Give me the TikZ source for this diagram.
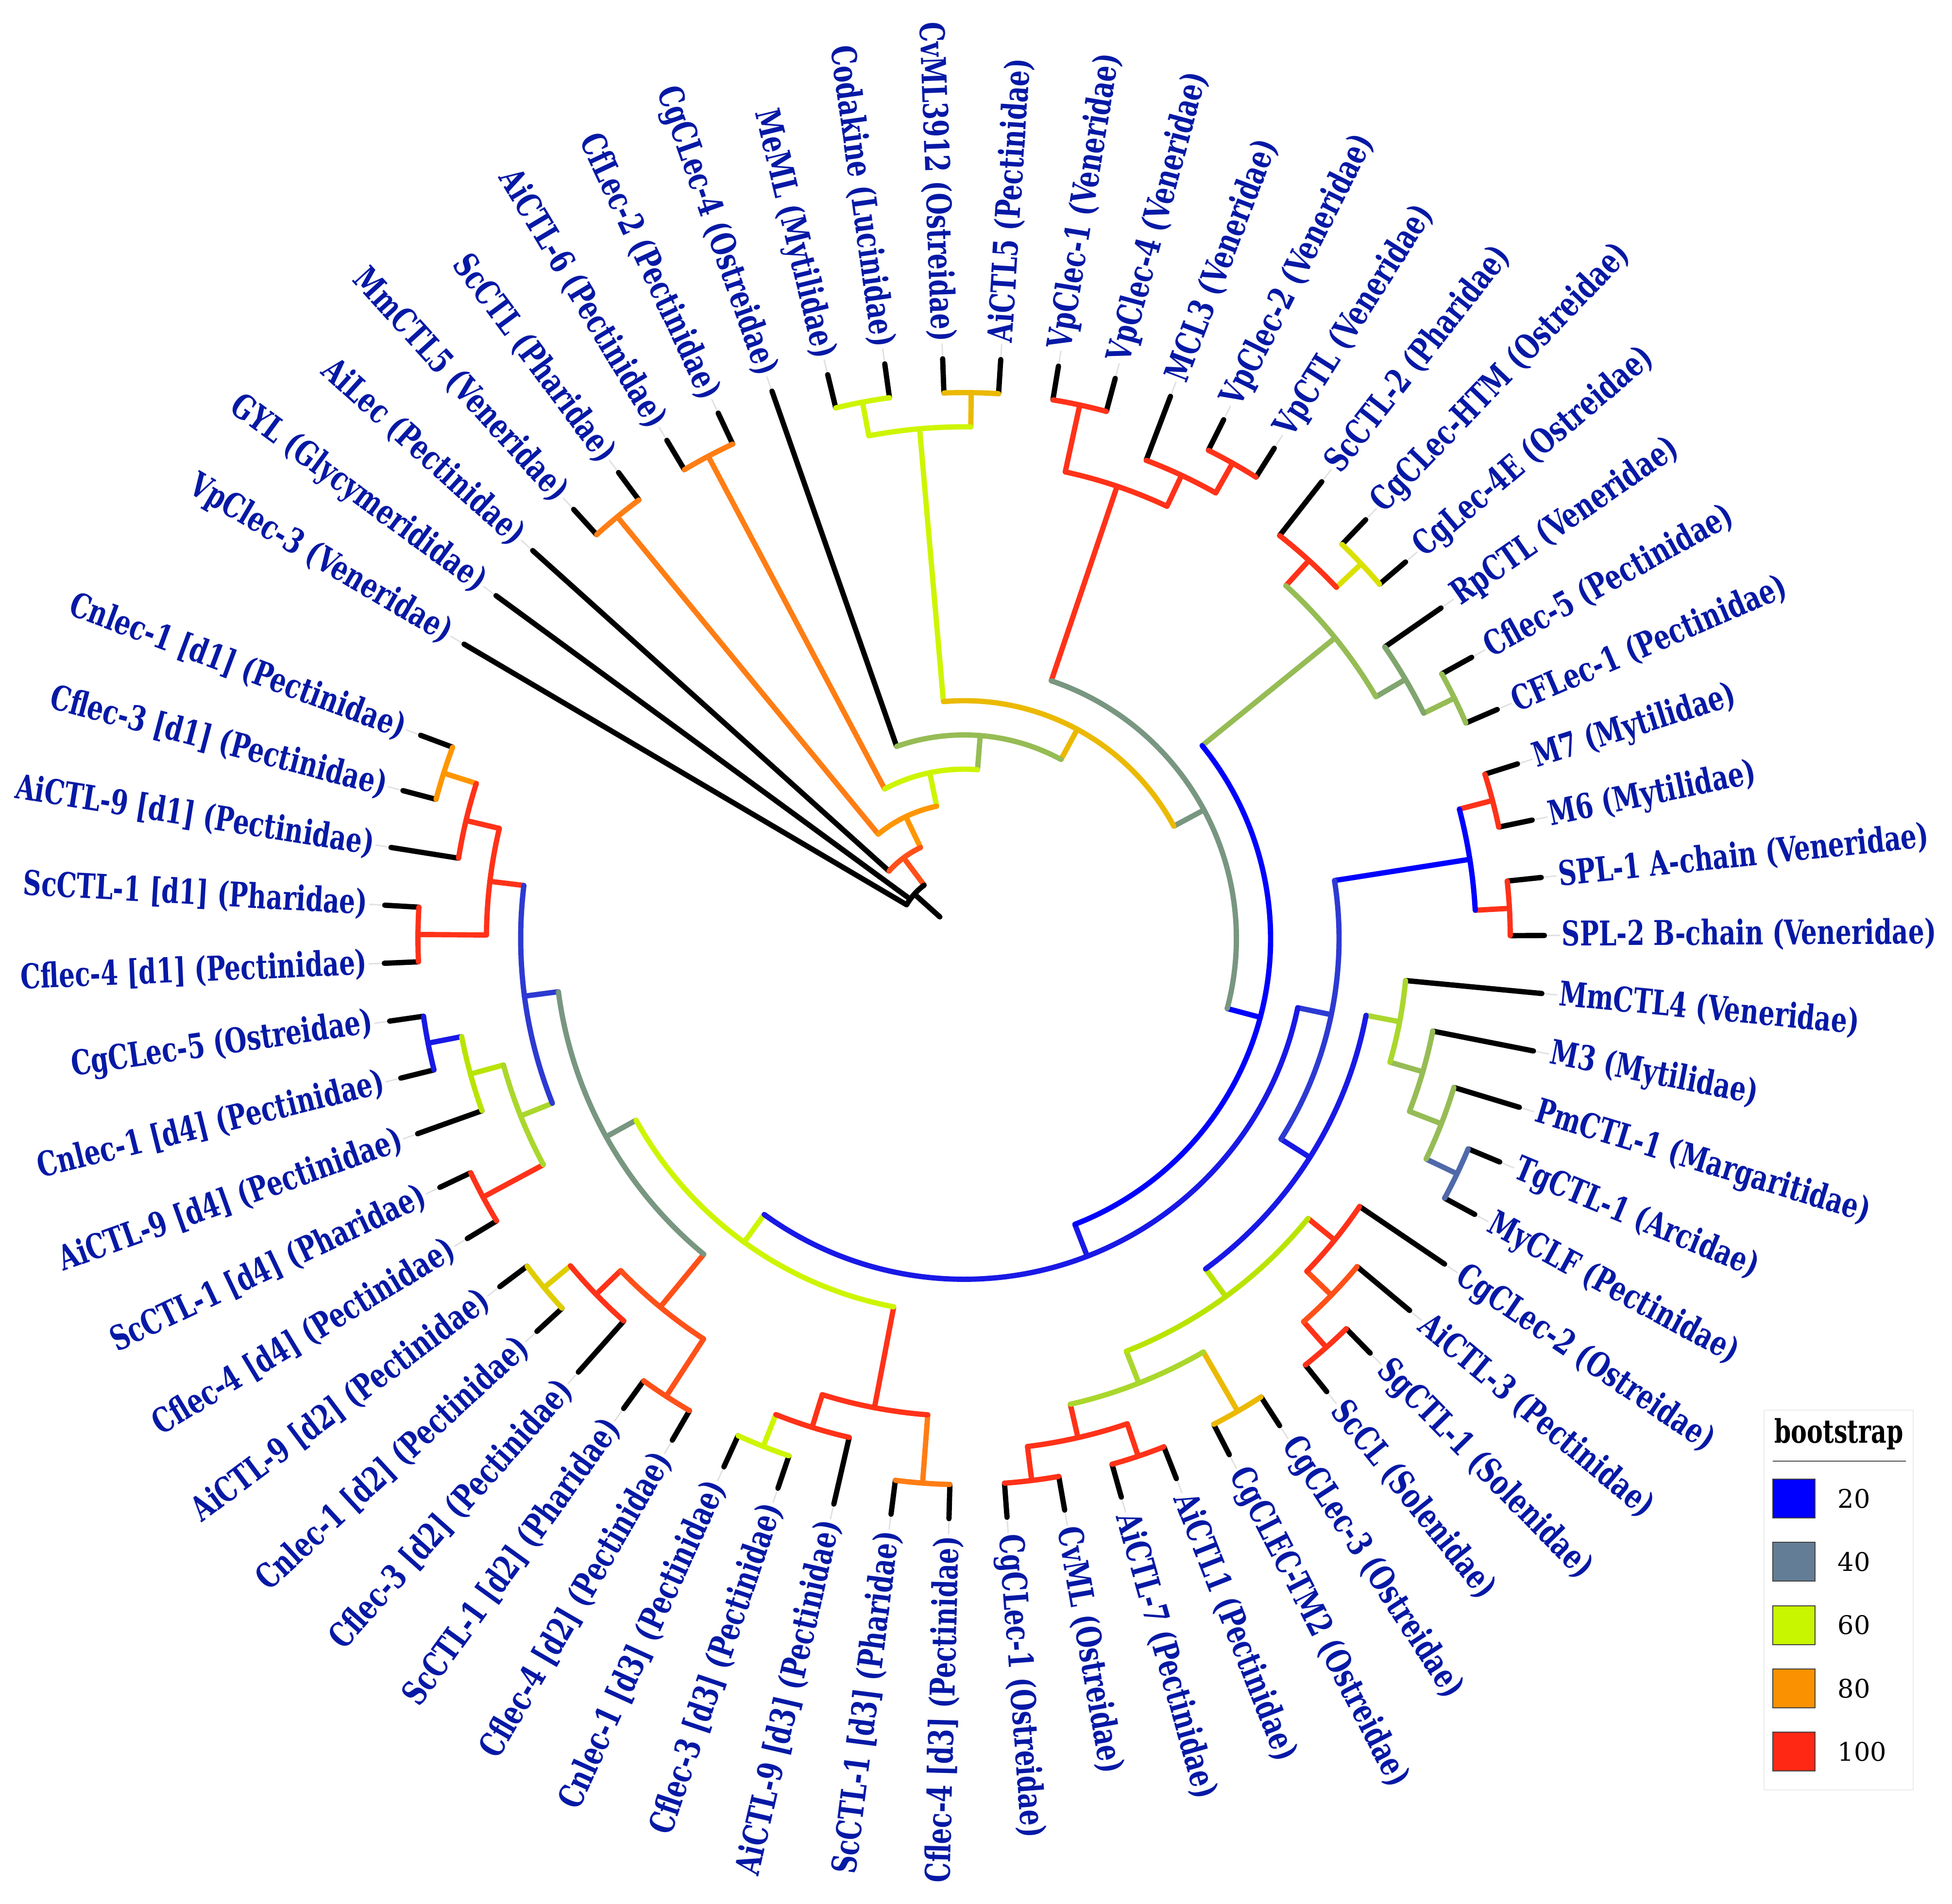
\documentclass[tikz,border=0pt]{standalone}
\usepackage{fontspec}
\setmainfont{DejaVu Serif}
\IfFontExistsTF{DejaVuSerifCondensed-Bold.ttf}
	{\newfontfamily\lblfont{DejaVuSerifCondensed-Bold.ttf}[FakeStretch=0.82]}
	{\newfontfamily\lblfont{DejaVu Serif Bold}[FakeStretch=0.695]}
\usetikzlibrary{positioning}

\definecolor{lblblue}{RGB}{5,25,165}
\definecolor{bsA}{RGB}{0,0,255}
\definecolor{bsB}{RGB}{100,125,150}
\definecolor{bsC}{RGB}{200,245,0}
\definecolor{bsD}{RGB}{250,145,0}
\definecolor{bsE}{RGB}{255,40,20}
\definecolor{rd}{RGB}{255,50,25}
\definecolor{orr}{RGB}{255,80,25}
\definecolor{orn}{RGB}{255,125,20}
\definecolor{amb}{RGB}{235,185,0}
\definecolor{amb2}{RGB}{255,150,0}
\definecolor{lime}{RGB}{205,245,0}
\definecolor{lim2}{RGB}{185,228,0}
\definecolor{yel}{RGB}{218,225,0}
\definecolor{dyl}{RGB}{224,205,0}
\definecolor{ygr}{RGB}{170,215,45}
\definecolor{grn}{RGB}{150,188,85}
\definecolor{gn2}{RGB}{128,165,110}
\definecolor{gry}{RGB}{120,150,128}
\definecolor{slt}{RGB}{80,105,170}
\definecolor{blA}{RGB}{0,0,255}
\definecolor{blB}{RGB}{25,25,230}
\definecolor{blC}{RGB}{45,58,210}

% leaf: index, height of parent, label
\newcommand{\leaf}[3]{%
	\pgfmathsetmacro{\cla}{149.5-(#1-1)*5.738}
	\expandafter\xdef\csname ang l#1\endcsname{\cla}
	\pgfmathsetmacro{\cpr}{11.95-0.705*#2}
	\coordinate (l#1b) at (\cla:\cpr);
	\coordinate (l#1) at (\cla:11.95);
	\draw[branch] (l#1b) -- (l#1);
	\draw[guide] (\cla:12.02) -- (\cla:12.27);
	\pgfmathparse{and(\cla<=90,\cla>=-90)}
	\ifdim\pgfmathresult pt>0.5pt
		\node[lbl,anchor=west,rotate=\cla] (t#1) at (\cla:12.3) {#3};
	\else
		\pgfmathsetmacro{\clr}{\cla+180}
		\node[lbl,anchor=east,rotate=\clr] (t#1) at (\cla:12.3) {#3};
	\fi
}
% clade: name, colour, height, height of parent, first child, last child
\newcommand{\clade}[6]{%
	\pgfmathsetmacro{\cfa}{\csname ang #5\endcsname}
	\pgfmathsetmacro{\cea}{\csname ang #6\endcsname}
	\pgfmathsetmacro{\cla}{(\cfa+\cea)/2}
	\expandafter\xdef\csname ang #1\endcsname{\cla}
	\pgfmathsetmacro{\crr}{11.95-0.705*#3}
	\pgfmathsetmacro{\cpr}{11.95-0.705*#4}
	\coordinate (#1b) at (\cla:\cpr);
	\coordinate (#1) at (\cla:\crr);
	\draw[branch,#2] (#5b) arc[start angle=\cfa, end angle=\cea, radius=\crr];
	\draw[branch,#2] (#1b) -- (#1);
}

\begin{document}
\begin{tikzpicture}[
	branch/.style={line width=3.1pt, line cap=round, black},
	guide/.style={line width=0.8pt, black!12},
	lbl/.style={font=\lblfont\fontsize{20}{20}\selectfont, text=lblblue, inner sep=0pt},
	legbox/.style={draw=black!75, line width=0.6pt, minimum width=0.87cm, minimum height=0.8cm, inner sep=0pt}
]
\useasboundingbox (0,0) rectangle (40.19,39.20);
\begin{scope}[shift={(19.85,19.87)}]
	\foreach \i/\h/\t in {
		1/15/{VpClec-3 (Veneridae)}, 2/15/{GYL (Glycymerididae)}, 3/14/{AiLec (Pectinidae)},
		4/1/{MmCTL5 (Veneridae)}, 5/1/{ScCTL (Pharidae)}, 6/1/{AiCTL-6 (Pectinidae)},
		7/1/{CfLec-2 (Pectinidae)}, 8/11/{CgCLec-4 (Ostreidae)}, 9/1/{MeML (Mytilidae)},
		10/1/{Codakine (Lucinidae)}, 11/1/{CvML3912 (Ostreidae)}, 12/1/{AiCTL5 (Pectinidae)},
		13/1/{VpClec-1 (Veneridae)}, 14/1/{VpClec-4 (Veneridae)}, 15/2/{MCL3 (Veneridae)},
		16/1/{VpClec-2 (Veneridae)}, 17/1/{VpCTL (Veneridae)}, 18/2/{ScCTL-2 (Pharidae)},
		19/1/{CgCLec-HTM (Ostreidae)}, 20/1/{CgLec-4E (Ostreidae)}, 21/2/{RpCTL (Veneridae)},
		22/1/{Cflec-5 (Pectinidae)}, 23/1/{CFLec-1 (Pectinidae)}, 24/1/{M7 (Mytilidae)},
		25/1/{M6 (Mytilidae)}, 26/1/{SPL-1 A-chain (Veneridae)}, 27/1/{SPL-2 B-chain (Veneridae)},
		28/4/{MmCTL4 (Veneridae)}, 29/3/{M3 (Mytilidae)}, 30/2/{PmCTL-1 (Margaritidae)},
		31/1/{TgCTL-1 (Arcidae)}, 32/1/{MyCLF (Pectinidae)}, 33/3/{CgCLec-2 (Ostreidae)},
		34/2/{AiCTL-3 (Pectinidae)}, 35/1/{SgCTL-1 (Solenidae)}, 36/1/{ScCL (Solenidae)},
		37/1/{CgCLec-3 (Ostreidae)}, 38/1/{CgCLEC-TM2 (Ostreidae)}, 39/1/{AiCTL1 (Pectinidae)},
		40/1/{AiCTL-7 (Pectinidae)}, 41/1/{CvML (Ostreidae)}, 42/1/{CgCLec-1 (Ostreidae)},
		43/1/{Cflec-4 [d3] (Pectinidae)}, 44/1/{ScCTL-1 [d3] (Pharidae)}, 45/2/{AiCTL-9 [d3] (Pectinidae)},
		46/1/{Cflec-3 [d3] (Pectinidae)}, 47/1/{Cnlec-1 [d3] (Pectinidae)}, 48/1/{Cflec-4 [d2] (Pectinidae)},
		49/1/{ScCTL-1 [d2] (Pharidae)}, 50/2/{Cflec-3 [d2] (Pectinidae)}, 51/1/{Cnlec-1 [d2] (Pectinidae)},
		52/1/{AiCTL-9 [d2] (Pectinidae)}, 53/1/{Cflec-4 [d4] (Pectinidae)}, 54/1/{ScCTL-1 [d4] (Pharidae)},
		55/2/{AiCTL-9 [d4] (Pectinidae)}, 56/1/{Cnlec-1 [d4] (Pectinidae)}, 57/1/{CgCLec-5 (Ostreidae)},
		58/1/{Cflec-4 [d1] (Pectinidae)}, 59/1/{ScCTL-1 [d1] (Pharidae)}, 60/2/{AiCTL-9 [d1] (Pectinidae)},
		61/1/{Cflec-3 [d1] (Pectinidae)}, 62/1/{Cnlec-1 [d1] (Pectinidae)}}
		{\leaf{\i}{\h}{\t}}
	% clades, from the tips down to the root
	\clade{MS}{orn}{1}{13}{l4}{l5}
	\clade{AC}{orn}{1}{12}{l6}{l7}
	\clade{LA}{lime}{1}{2}{l9}{l10}
	\clade{OA}{amb}{1}{2}{l11}{l12}
	\clade{LB}{lime}{2}{10}{LA}{OA}
	\clade{VA}{rd}{1}{3}{l13}{l14}
	\clade{VC}{rd}{1}{2}{l16}{l17}
	\clade{VB}{rd}{2}{3}{l15}{VC}
	\clade{V}{rd}{3}{9}{VA}{VB}
	\clade{YC}{yel}{1}{2}{l19}{l20}
	\clade{OR}{rd}{2}{3}{l18}{YC}
	\clade{GC}{grn}{1}{2}{l22}{l23}
	\clade{GN}{gn2}{2}{3}{l21}{GC}
	\clade{OG}{grn}{3}{8}{OR}{GN}
	\clade{MM}{rd}{1}{2}{l24}{l25}
	\clade{SP}{rd}{1}{2}{l26}{l27}
	\clade{BS}{blA}{2}{6}{MM}{SP}
	\clade{TG}{slt}{1}{2}{l31}{l32}
	\clade{LD}{grn}{2}{3}{l30}{TG}
	\clade{LC}{grn}{3}{4}{l29}{LD}
	\clade{LE}{ygr}{4}{5}{l28}{LC}
	\clade{RC}{rd}{1}{2}{l35}{l36}
	\clade{RB}{orr}{2}{3}{l34}{RC}
	\clade{RA}{rd}{3}{4}{l33}{RB}
	\clade{OB}{amb}{1}{3}{l37}{l38}
	\clade{RD}{rd}{1}{2}{l39}{l40}
	\clade{RE}{rd}{1}{2}{l41}{l42}
	\clade{RF}{rd}{2}{3}{RD}{RE}
	\clade{YB}{ygr}{3}{4}{OB}{RF}
	\clade{YA}{lim2}{4}{5}{RA}{YB}
	\clade{BD}{blB}{5}{6}{LE}{YA}
	\clade{BC}{blC}{6}{7}{BS}{BD}
	\clade{OC}{orn}{1}{3}{l43}{l44}
	\clade{YD}{lime}{1}{2}{l46}{l47}
	\clade{RG}{rd}{2}{3}{l45}{YD}
	\clade{RH}{rd}{3}{6}{OC}{RG}
	\clade{RI}{orr}{1}{3}{l48}{l49}
	\clade{YE}{dyl}{1}{2}{l51}{l52}
	\clade{RJ}{rd}{2}{3}{l50}{YE}
	\clade{RK}{orr}{3}{5}{RI}{RJ}
	\clade{RL}{rd}{1}{3}{l53}{l54}
	\clade{BF}{blB}{1}{2}{l56}{l57}
	\clade{LF}{lim2}{2}{3}{l55}{BF}
	\clade{GG}{ygr}{3}{4}{RL}{LF}
	\clade{RM}{rd}{1}{3}{l58}{l59}
	\clade{OD}{amb2}{1}{2}{l61}{l62}
	\clade{RN}{rd}{2}{3}{l60}{OD}
	\clade{RO}{rd}{3}{4}{RM}{RN}
	\clade{BE}{blC}{4}{5}{GG}{RO}
	\clade{GB}{gry}{5}{6}{RK}{BE}
	\clade{YF}{lime}{6}{7}{RH}{GB}
	\clade{BB}{blB}{7}{8}{YF}{BC}
	\clade{BA}{blA}{8}{9}{OG}{BB}
	\clade{GA}{gry}{9}{10}{V}{BA}
	\clade{OE}{amb}{10}{11}{LB}{GA}
	\clade{GR}{grn}{11}{12}{l8}{OE}
	\clade{YG}{lime}{12}{13}{AC}{GR}
	\clade{OF}{amb2}{13}{14}{MS}{YG}
	\clade{RR}{orr}{14}{15}{l3}{OF}
	\clade{root}{black}{15}{16}{l1}{RR}
\end{scope}
% legend
\draw[black!8, line width=0.8pt] (36.32,2.34) rectangle (39.39,10.16);
\node[font=\lblfont\fontsize{19}{19}\selectfont] (head) at (37.86,9.67) {bootstrap};
\draw[black!70, line width=0.6pt] (36.50,9.11) -- (39.24,9.11);
\foreach \v/\c [count=\idx] in {20/bsA,40/bsB,60/bsC,80/bsD,100/bsE} {
	\node[legbox,fill=\c] (key\idx) at (36.935,{8.34-1.303*(\idx-1)}) {};
	\node[right=0.45cm of key\idx, font=\fontsize{15}{15}\selectfont, inner sep=0pt] (val\idx) {\v};
}
\end{tikzpicture}
\end{document}
